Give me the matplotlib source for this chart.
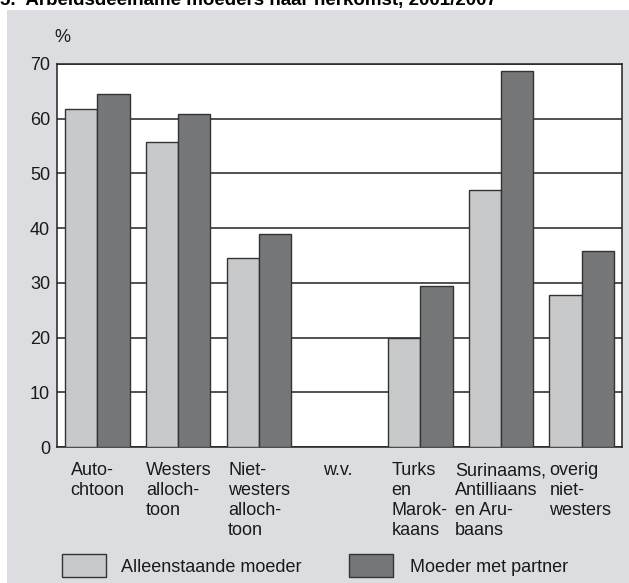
import matplotlib
matplotlib.use("Agg")
import matplotlib.pyplot as plt
from matplotlib.patches import Rectangle
import numpy as np

plt.rcParams['font.family'] = ['Liberation Sans', 'DejaVu Sans']

title = "5.  Arbeidsdeelname moeders naar herkomst, 2001/2007"
categories = ["Auto-\nchtoon", "Westers\nalloch-\ntoon", "Niet-\nwesters\nalloch-\ntoon", "w.v.",
              "Turks\nen\nMarok-\nkaans", "Surinaams,\nAntilliaans\nen Aru-\nbaans", "overig\nniet-\nwesters"]
alleenstaand = [61.8, 55.7, 34.6, np.nan, 20.0, 47.0, 27.7]
met_partner = [64.6, 60.8, 39.0, np.nan, 29.4, 68.7, 35.8]
series_names = ["Alleenstaande moeder", "Moeder met partner"]
yticks = [0, 10, 20, 30, 40, 50, 60, 70]

W, H = 629, 583
fs = 13
fig = plt.figure(figsize=(W / 100, H / 100), dpi=100)
fig.patch.set_facecolor('white')
bg = '#dcdde0'
light = '#c8c9cb'
dark = '#767779'
edge = '#333333'

fig.patches.append(Rectangle((7 / W, 0), 1 - 7 / W, (H - 10) / H, transform=fig.transFigure,
                             facecolor=bg, edgecolor='none', zorder=-10))
fig.text(0.0, (H - 5) / H, title, fontsize=13.5, fontweight='bold', ha='left', va='baseline')

ax = fig.add_axes([57 / W, (H - 447) / H, 565 / W, (447 - 64) / H])
ax.set_facecolor('white')
x = np.arange(len(categories))
bw = 0.4
ax.bar(x - bw / 2, alleenstaand, width=bw, color=light, edgecolor=edge, linewidth=1.0, zorder=3)
ax.bar(x + bw / 2, met_partner, width=bw, color=dark, edgecolor=edge, linewidth=1.0, zorder=3)
ax.set_xlim(-0.5, len(categories) - 0.5)
ax.set_ylim(0, 70)
ax.set_yticks(yticks)
ax.yaxis.grid(True, color='#222222', linewidth=1.1, zorder=1)
ax.set_axisbelow(True)
ax.tick_params(axis='y', length=0, pad=5, labelsize=fs, labelcolor='#1a1a1a')
ax.set_xticks([])
for s in ax.spines.values():
    s.set_color('#222222')
    s.set_linewidth(1.1)

offsets = [0.07, 0.0, 0.02, 0.2, 0.045, -0.17, 0.0]
for xi, lab, off in zip(x, categories, offsets):
    ax.annotate(lab, xy=(xi - bw + off, 0), xycoords=('data', 'axes fraction'),
                xytext=(0, -11), textcoords='offset points', ha='left', va='top',
                fontsize=fs, linespacing=1.22, color='#1a1a1a')

fig.text(54 / W, (H - 38) / H, "%", fontsize=fs, ha='left', va='center', color='#1a1a1a')

# legend
fig.patches.append(Rectangle((62 / W, (H - 577) / H), 44 / W, 23 / H, transform=fig.transFigure,
                             facecolor=light, edgecolor=edge, linewidth=1.0))
fig.text(121 / W, (H - 567) / H, series_names[0], fontsize=fs, ha='left', va='center', color='#1a1a1a')
fig.patches.append(Rectangle((349 / W, (H - 577) / H), 44 / W, 23 / H, transform=fig.transFigure,
                             facecolor=dark, edgecolor=edge, linewidth=1.0))
fig.text(410 / W, (H - 567) / H, series_names[1], fontsize=fs, ha='left', va='center', color='#1a1a1a')

fig.savefig("out.png", dpi=100)
